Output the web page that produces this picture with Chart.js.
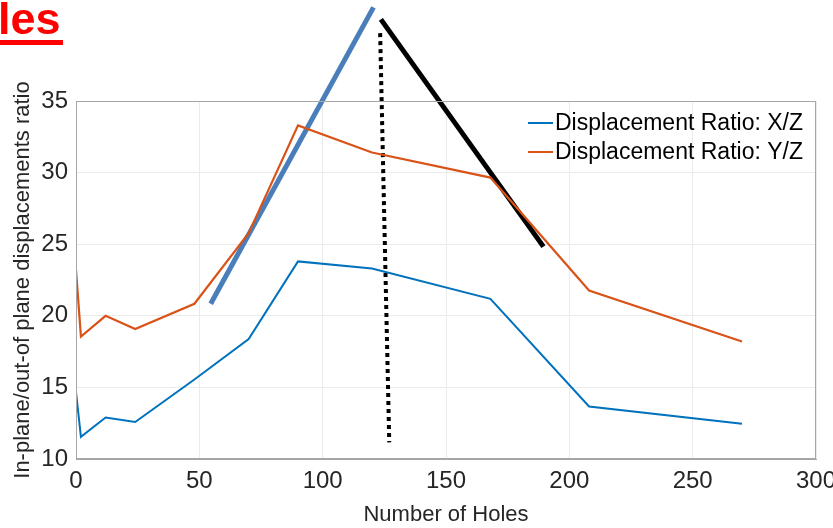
<!DOCTYPE html>
<html>
  <head>
    <meta charset="utf-8">
    <title>Displacement ratio vs number of holes</title>
    <script src="https://cdn.jsdelivr.net/npm/chart.js@4"></script>
    <style>
      body { margin: 0; background: #fff; }
      #wrap { width: 833px; height: 528px; position: relative; }
    </style>
  </head>
  <body>
    <div id="wrap"><canvas id="myChart"></canvas></div>

    <script type="text/javascript">
      // data
      var holes = [0, 2, 12, 24, 48, 70, 90, 120, 168, 208, 270];
      var ratioXZ = [14.67, 11.55, 12.9, 12.58, 15.55, 18.37, 23.8, 23.3, 21.18, 13.67, 12.46];
      var ratioYZ = [23.2, 18.55, 20.0, 19.07, 20.84, 25.77, 33.3, 31.4, 29.65, 21.76, 18.2];
      var seriesNames = ['Displacement Ratio: X/Z', 'Displacement Ratio: Y/Z'];
      var xTicks = [0, 50, 100, 150, 200, 250, 300];
      var yTicks = [10, 15, 20, 25, 30, 35];

      // hand drawn overlay strokes (data units)
      var riseLine = [{x: 54.6, y: 20.84}, {x: 120.6, y: 41.54}];
      var fallLine = [{x: 123.6, y: 40.7}, {x: 189.5, y: 24.83}];
      var peakLine = [{x: 123.3, y: 39.74}, {x: 127.0, y: 11.16}];

      var fontFam = '"Liberation Sans", Arial, Helvetica, sans-serif';

      function toPoints(xs, ys) {
        var out = [];
        for (var i = 0; i < xs.length; i++) out.push({x: xs[i], y: ys[i]});
        return out;
      }

      // box round the axes, legend inside, and the cut-off red heading
      var extras = {
        id: 'extras',
        afterDatasetsDraw: function(chart) {
          var ctx = chart.ctx;
          var a = chart.chartArea;
          ctx.save();
          ctx.strokeStyle = '#a6a6a6';
          ctx.lineWidth = 1;
          ctx.strokeRect(a.left + 0.5, a.top + 0.5, a.right - a.left - 1, a.bottom - a.top - 1);

          // legend
          ctx.font = '23px ' + fontFam;
          ctx.textBaseline = 'middle';
          ctx.textAlign = 'left';
          var ly = [123, 152];
          for (var i = 0; i < 2; i++) {
            var ds = chart.data.datasets[i];
            ctx.strokeStyle = ds.borderColor;
            ctx.lineWidth = 2;
            ctx.beginPath();
            ctx.moveTo(528, ly[i]);
            ctx.lineTo(553, ly[i]);
            ctx.stroke();
            ctx.fillStyle = '#000';
            ctx.fillText(ds.label, 555, ly[i] + 1);
          }

          // heading fragment
          ctx.fillStyle = '#ff0000';
          ctx.font = 'bold 45px ' + fontFam;
          ctx.textBaseline = 'alphabetic';
          ctx.fillText('les', -2, 34);
          ctx.fillRect(0, 40, 63, 5);
          ctx.restore();
        }
      };

      var ctx = document.getElementById('myChart').getContext('2d');
      var chart = new Chart(ctx, {
        type: 'line',
        data: {
          datasets: [{
            label: seriesNames[0],
            data: toPoints(holes, ratioXZ),
            borderColor: '#0072BD',
            borderWidth: 2,
            pointRadius: 0,
            tension: 0
          }, {
            label: seriesNames[1],
            data: toPoints(holes, ratioYZ),
            borderColor: '#D95319',
            borderWidth: 2.2,
            pointRadius: 0,
            tension: 0
          }, {
            label: '',
            data: riseLine,
            borderColor: '#4a7ebb',
            borderWidth: 5,
            pointRadius: 0,
            clip: false
          }, {
            label: '',
            data: fallLine,
            borderColor: '#000000',
            borderWidth: 5,
            pointRadius: 0,
            clip: false
          }, {
            label: '',
            data: peakLine,
            borderColor: '#000000',
            borderWidth: 4,
            borderDash: [4, 4],
            pointRadius: 0,
            clip: false
          }]
        },
        options: {
          responsive: true,
          maintainAspectRatio: false,
          animation: false,
          layout: { padding: { top: 101, right: 17, left: 0, bottom: 0 } },
          plugins: {
            legend: { display: false },
            tooltip: { enabled: false }
          },
          scales: {
            x: {
              type: 'linear',
              min: 0,
              max: 300,
              afterBuildTicks: function(scale) {
                scale.ticks = xTicks.map(function(v) { return {value: v}; });
              },
              afterFit: function(scale) {
                scale.height = 69;
                scale.paddingLeft = 0;
                scale.paddingRight = 0;
              },
              grid: { color: '#ebebeb', drawTicks: false },
              border: { color: '#a6a6a6' },
              ticks: {
                padding: 8,
                color: '#262626',
                font: { family: fontFam, size: 24 },
                maxRotation: 0
              },
              title: {
                display: true,
                text: 'Number of Holes',
                color: '#262626',
                font: { family: fontFam, size: 22 },
                padding: { top: 0, bottom: 0 }
              }
            },
            y: {
              min: 10,
              max: 35,
              afterBuildTicks: function(scale) {
                scale.ticks = yTicks.map(function(v) { return {value: v}; });
              },
              afterFit: function(scale) { scale.width = 76; },
              grid: { color: '#ebebeb', drawTicks: false },
              border: { color: '#a6a6a6' },
              ticks: {
                padding: 8,
                color: '#262626',
                font: { family: fontFam, size: 24 }
              },
              title: {
                display: true,
                text: 'In-plane/out-of plane displacements ratio',
                color: '#262626',
                font: { family: fontFam, size: 22 },
                padding: { top: 10, bottom: 0 }
              }
            }
          }
        },
        plugins: [extras]
      });
    </script>
  </body>
</html>
